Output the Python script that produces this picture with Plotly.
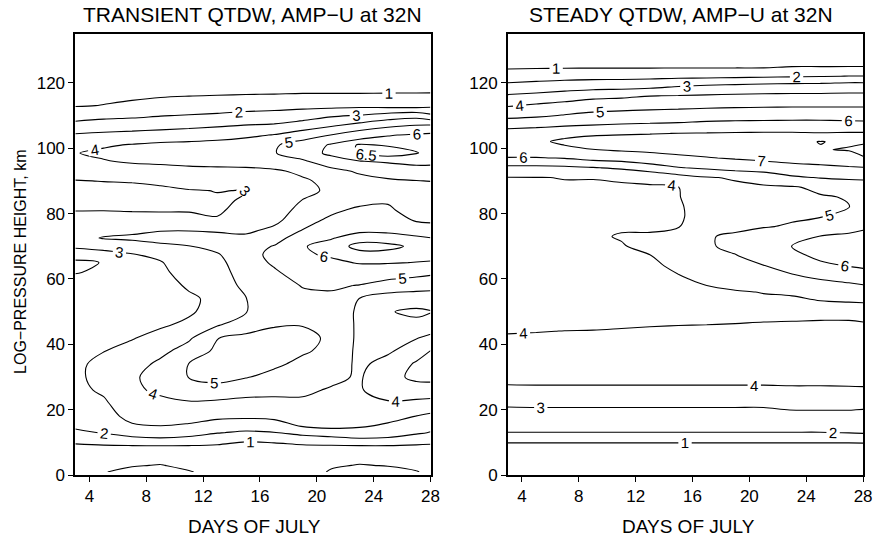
import numpy as np
import plotly.graph_objects as go

FONT = "Liberation Sans, Arial, sans-serif"

# ---------------- data ----------------
days = [3, 5, 7, 9, 11, 13, 15, 17, 19, 21, 23, 25, 27, 28]
x_ticks = [4, 8, 12, 16, 20, 24, 28]
y_ticks = [0, 20, 40, 60, 80, 100, 120]

# Transient QTDW (left) : heights (km) and amplitude profiles per day
heights_transient = [1, 3, 6, 9, 11, 13, 15, 18, 22, 26, 30, 34, 38, 42, 46, 50, 54, 58, 62, 65,
                     67.5, 70, 72.5, 75, 78, 81, 84, 87, 90, 93, 96, 98.5, 101, 104, 107, 110, 113,
                     117, 122, 128, 135]
tr_d03 = [0.85, 0.8, 0.75, 0.88, 1.3, 1.8, 2.15, 2.4, 2.6, 2.75, 2.85, 2.85, 2.8, 2.7, 2.6, 2.5, 2.4,
          2.25, 1.97, 1.85, 2.35, 3.2, 3.75, 3.6, 3.35, 2.97, 2.7, 2.65, 2.97, 3.4, 3.8, 3.97, 3.55,
          3.1, 2.32, 1.55, 0.95, 0.8, 0.65, 0.5, 0.35]
tr_d05 = [0.98, 0.9, 0.8, 0.95, 1.5, 2.05, 2.3, 2.55, 2.85, 3.15, 3.25, 3.2, 2.98, 2.85, 2.75, 2.65,
          2.5, 2.35, 2.1, 2.03, 2.6, 3.4, 4.05, 3.75, 3.45, 2.98, 2.78, 2.75, 3.02, 3.45, 3.95, 4.15,
          3.9, 3.2, 2.5, 1.7, 1.02, 0.8, 0.65, 0.5, 0.35]
tr_d07 = [1.12, 0.97, 0.8, 0.98, 1.75, 2.4, 2.85, 3.35, 3.65, 3.85, 3.85, 3.6, 3.25, 2.95, 2.8, 2.7,
          2.6, 2.55, 2.55, 2.7, 2.95, 3.6, 4.15, 3.8, 3.45, 2.93, 2.78, 2.8, 3.05, 3.6, 4.1, 4.3,
          4.05, 3.3, 2.55, 1.8, 1.1, 0.85, 0.67, 0.5, 0.35]
tr_d09 = [1.15, 1.02, 0.8, 0.99, 1.85, 2.55, 2.98, 3.4, 3.8, 4.15, 4.4, 4.2, 3.75, 3.25, 2.9, 2.8,
          2.75, 2.75, 2.8, 2.93, 3.25, 3.85, 4.25, 3.95, 3.45, 2.9, 2.8, 2.85, 3.15, 3.7, 4.15, 4.4,
          4.2, 3.4, 2.65, 1.95, 1.25, 0.85, 0.67, 0.5, 0.35]
tr_d11 = [1.03, 0.9, 0.78, 0.98, 1.75, 2.35, 2.85, 3.4, 3.9, 4.5, 5.03, 5.02, 4.4, 3.85, 3.15, 2.9,
          2.9, 3.08, 3.4, 3.6, 3.8, 3.97, 4.35, 3.95, 3.3, 2.93, 2.85, 2.95, 3.35, 3.8, 4.2, 4.45,
          4.25, 3.5, 2.75, 2.05, 1.35, 0.87, 0.68, 0.5, 0.35]
tr_d13 = [0.85, 0.82, 0.78, 0.93, 1.35, 2.05, 2.55, 3.2, 3.75, 4.75, 5.2, 5.3, 5.2, 4.98, 3.9, 3.3,
          3.15, 3.3, 3.5, 3.7, 3.92, 4.3, 4.35, 3.85, 3.05, 2.92, 2.92, 3.02, 3.45, 3.85, 4.2, 4.5,
          4.35, 3.6, 2.88, 2.15, 1.45, 0.88, 0.7, 0.5, 0.35]
tr_d15 = [0.75, 0.75, 0.75, 0.85, 1.1, 1.85, 2.45, 3.15, 3.72, 4.35, 5.05, 5.3, 5.35, 5.2, 4.55, 3.95,
          3.97, 4.3, 4.55, 4.65, 4.7, 4.6, 4.2, 3.8, 3.45, 3.2, 3.05, 2.98, 3.5, 3.85, 4.25, 4.6,
          4.5, 3.8, 3.02, 2.3, 1.55, 0.9, 0.7, 0.5, 0.35]
tr_d17 = [0.78, 0.78, 0.78, 0.88, 1.15, 1.95, 2.6, 3.2, 3.7, 4.3, 4.75, 5.15, 5.3, 5.2, 4.95, 4.7,
          4.65, 4.75, 4.9, 5.1, 5.2, 5.05, 4.6, 4.2, 3.75, 3.55, 3.5, 3.55, 3.7, 3.9, 4.45, 4.95,
          4.9, 4.05, 3.1, 2.4, 1.6, 0.92, 0.7, 0.5, 0.35]
tr_d19 = [0.8, 0.8, 0.8, 0.92, 1.45, 2.35, 3.05, 3.5, 3.85, 4.15, 4.5, 4.8, 5.1, 5.2, 4.97, 4.8,
          4.85, 5.03, 5.35, 5.65, 5.9, 5.95, 5.55, 5.02, 4.6, 4.3, 4.02, 3.85, 3.9, 4.15, 4.85, 5.55,
          5.4, 4.55, 3.4, 2.55, 1.7, 0.95, 0.72, 0.5, 0.35]
tr_d21 = [1.04, 0.95, 0.82, 0.95, 1.65, 2.6, 3.2, 3.5, 3.7, 3.92, 4.2, 4.55, 4.8, 4.88, 4.8, 4.7,
          4.85, 5.1, 5.55, 5.85, 6.1, 6.25, 5.95, 5.55, 5.2, 4.8, 4.3, 4.1, 4.2, 4.7, 5.6, 6.2,
          6.1, 5.02, 3.85, 2.85, 1.7, 0.95, 0.73, 0.5, 0.35]
tr_d23 = [1.15, 1.02, 0.85, 0.98, 1.9, 2.55, 3.1, 3.45, 3.7, 3.93, 3.9, 3.8, 3.75, 3.78, 3.8, 3.82,
          3.98, 4.97, 5.6, 6.05, 6.35, 6.65, 6.3, 5.85, 5.55, 5.2, 4.7, 4.45, 4.65, 5.15, 5.98, 6.55,
          6.55, 5.6, 4.3, 3.05, 1.75, 0.95, 0.73, 0.5, 0.35]
tr_d25 = [1.12, 0.98, 0.82, 0.98, 1.85, 2.4, 2.85, 3.3, 3.9, 4.4, 4.7, 4.35, 3.85, 3.55, 3.3, 3.05,
          3.55, 4.6, 5.5, 6.05, 6.35, 6.62, 6.25, 5.85, 5.5, 5.15, 4.9, 4.75, 4.85, 5.5, 6.1, 6.75,
          6.45, 5.95, 4.75, 3.4, 1.65, 0.97, 0.73, 0.5, 0.35]
tr_d27 = [1.02, 0.9, 0.8, 0.93, 1.45, 2.15, 2.5, 2.98, 3.75, 4.6, 5.2, 5.12, 4.55, 3.95, 3.2, 2.85,
          3.45, 4.45, 5.3, 5.98, 6.25, 6.4, 6.15, 5.55, 4.9, 4.6, 4.5, 4.65, 4.98, 5.65, 6.25, 6.52,
          6.4, 6.1, 5.02, 3.6, 1.6, 0.98, 0.74, 0.5, 0.35]
tr_d28 = [0.92, 0.85, 0.8, 0.9, 1.35, 1.95, 2.3, 2.8, 3.65, 4.6, 5.25, 5.35, 5.02, 4.2, 3.45, 2.95,
          3.55, 4.3, 5.2, 5.95, 6.2, 6.3, 6.02, 5.45, 4.82, 4.55, 4.5, 4.65, 5.02, 5.7, 6.2, 6.4,
          6.4, 6.2, 5.05, 3.2, 1.75, 0.98, 0.74, 0.5, 0.35]

# Steady QTDW (right)
heights_steady = [1, 5, 9, 11, 13, 16, 20, 24, 28, 32, 36, 40, 44, 48, 52, 56, 60, 64, 67, 70,
                  73, 76, 79, 82, 85, 88, 91, 94, 97, 99.5, 102, 104.5, 107, 110, 113, 116, 119,
                  122, 125, 129, 135]
st_d03 = [0.55, 0.7, 0.88, 1.15, 1.98, 2.4, 2.88, 3.45, 4.05, 4.25, 4.3, 4.2, 3.95, 3.75, 3.65, 3.6,
          3.55, 3.55, 3.55, 3.6, 3.65, 3.7, 3.75, 3.8, 3.85, 3.9, 3.97, 4.75, 5.95, 6.6, 6.75, 6.4,
          5.7, 4.7, 3.93, 3.1, 2.3, 1.4, 0.85, 0.6, 0.4]
st_d05 = [0.55, 0.7, 0.88, 1.15, 1.98, 2.4, 2.9, 3.47, 4.07, 4.25, 4.3, 4.2, 3.98, 3.78, 3.68, 3.62,
          3.6, 3.6, 3.62, 3.65, 3.7, 3.75, 3.8, 3.85, 3.88, 3.92, 3.98, 4.75, 5.95, 6.7, 6.88, 6.6,
          5.75, 4.85, 4.15, 3.25, 2.4, 1.55, 0.85, 0.6, 0.4]
st_d07 = [0.55, 0.7, 0.88, 1.15, 1.98, 2.4, 2.9, 3.47, 4.07, 4.25, 4.3, 4.22, 4.01, 3.8, 3.7, 3.65,
          3.62, 3.63, 3.66, 3.72, 3.8, 3.83, 3.85, 3.88, 3.9, 3.93, 4.02, 4.8, 6.05, 6.85, 7.12, 6.8,
          5.9, 5.05, 4.35, 3.45, 2.5, 1.65, 0.85, 0.6, 0.4]
st_d09 = [0.55, 0.7, 0.88, 1.15, 1.98, 2.4, 2.9, 3.47, 4.07, 4.25, 4.3, 4.22, 4.02, 3.8, 3.7, 3.68,
          3.68, 3.72, 3.78, 3.85, 3.9, 3.85, 3.83, 3.85, 3.88, 3.92, 4.02, 4.95, 6.35, 6.98, 7.35,
          6.85, 6.02, 5.25, 4.5, 3.75, 2.55, 1.7, 0.85, 0.6, 0.4]
st_d11 = [0.55, 0.7, 0.88, 1.15, 1.98, 2.4, 2.9, 3.47, 4.07, 4.25, 4.3, 4.22, 4.05, 3.82, 3.72, 3.7,
          3.72, 3.78, 3.86, 3.95, 4.05, 3.92, 3.86, 3.86, 3.88, 3.95, 4.05, 5.15, 6.45, 7.1, 7.45,
          6.9, 6.1, 5.35, 4.6, 3.82, 2.6, 1.7, 0.85, 0.6, 0.4]
st_d13 = [0.55, 0.7, 0.88, 1.15, 1.98, 2.4, 2.9, 3.47, 4.07, 4.25, 4.3, 4.22, 4.07, 3.87, 3.77, 3.75,
          3.8, 3.88, 3.97, 4.2, 4.05, 3.93, 3.9, 3.9, 3.92, 3.96, 4.1, 5.6, 6.6, 7.2, 7.55, 6.95,
          6.15, 5.4, 4.7, 3.98, 2.7, 1.72, 0.85, 0.6, 0.4]
st_d15 = [0.55, 0.7, 0.88, 1.15, 1.98, 2.4, 2.9, 3.47, 4.07, 4.25, 4.3, 4.22, 4.08, 3.9, 3.8, 3.82,
          3.93, 4.12, 4.3, 4.45, 4.25, 3.96, 3.9, 3.93, 3.97, 3.98, 4.6, 5.95, 6.8, 7.3, 7.6, 7.02,
          6.2, 5.45, 4.75, 4.03, 2.95, 1.75, 0.85, 0.6, 0.4]
st_d17 = [0.55, 0.7, 0.88, 1.15, 1.98, 2.4, 2.9, 3.47, 4.07, 4.25, 4.3, 4.22, 4.1, 3.9, 3.78, 3.88,
          4.12, 4.45, 4.7, 4.9, 4.95, 4.65, 4.35, 4.28, 4.35, 4.5, 4.93, 6.15, 6.95, 7.4, 7.7, 7.05,
          6.3, 5.55, 4.8, 4.1, 3.1, 1.75, 0.85, 0.6, 0.4]
st_d19 = [0.55, 0.7, 0.88, 1.15, 1.98, 2.4, 2.9, 3.47, 4.07, 4.25, 4.3, 4.22, 4.1, 3.93, 3.82, 3.95,
          4.3, 4.65, 4.95, 5.2, 5.1, 4.85, 4.6, 4.5, 4.55, 4.8, 5.1, 6.4, 7.08, 7.5, 7.75, 7.08,
          6.35, 5.58, 4.85, 4.15, 3.2, 1.8, 0.85, 0.6, 0.4]
st_d21 = [0.55, 0.7, 0.88, 1.15, 1.98, 2.4, 2.9, 3.47, 4.07, 4.25, 4.3, 4.22, 4.12, 3.95, 3.85, 4.02,
          4.5, 4.97, 5.35, 5.7, 5.45, 4.95, 4.7, 4.6, 4.68, 4.9, 5.3, 6.55, 7.2, 7.6, 7.8, 7.1,
          6.38, 5.6, 4.88, 4.18, 3.3, 1.85, 0.85, 0.6, 0.4]
st_d23 = [0.55, 0.7, 0.88, 1.15, 1.98, 2.4, 3.02, 3.5, 4.1, 4.27, 4.3, 4.23, 4.13, 3.96, 3.88, 4.05,
          4.75, 5.4, 5.75, 6.02, 5.8, 5.08, 4.9, 4.78, 4.8, 4.9, 5.85, 6.7, 7.35, 7.8, 7.85, 7.1,
          6.4, 5.62, 4.9, 4.2, 3.35, 1.9, 0.98, 0.6, 0.4]
st_d25 = [0.55, 0.7, 0.88, 1.15, 1.98, 2.4, 3.02, 3.5, 4.1, 4.27, 4.3, 4.25, 4.15, 3.97, 3.9, 4.2,
          5.03, 5.8, 6.2, 6.3, 6.02, 5.5, 4.97, 4.9, 4.92, 5.2, 6.05, 6.8, 7.45, 7.96, 8.02, 7.05,
          6.4, 5.62, 4.9, 4.2, 3.38, 1.95, 0.98, 0.6, 0.4]
st_d27 = [0.55, 0.7, 0.88, 1.15, 2.02, 2.4, 3.02, 3.52, 4.12, 4.28, 4.3, 4.25, 4.15, 3.97, 3.88, 4.4,
          5.25, 6.03, 6.3, 6.35, 6.15, 5.7, 5.3, 4.98, 5.05, 5.6, 6.1, 6.9, 7.65, 8.05, 7.9, 7.1,
          6.35, 5.6, 4.9, 4.2, 3.5, 2.02, 0.98, 0.6, 0.4]
st_d28 = [0.55, 0.7, 0.88, 1.18, 2.1, 2.45, 2.98, 3.6, 4.12, 4.28, 4.3, 4.25, 4.12, 3.95, 3.88, 4.55,
          5.35, 6.15, 6.4, 6.45, 6.25, 5.85, 5.5, 5.35, 5.4, 5.7, 6.1, 6.95, 7.95, 8.2, 7.9, 7.1,
          6.3, 5.6, 4.9, 4.2, 3.5, 2.02, 0.98, 0.6, 0.4]

transient_columns = [tr_d03, tr_d05, tr_d07, tr_d09, tr_d11, tr_d13, tr_d15, tr_d17, tr_d19,
                     tr_d21, tr_d23, tr_d25, tr_d27, tr_d28]
steady_columns = [st_d03, st_d05, st_d07, st_d09, st_d11, st_d13, st_d15, st_d17, st_d19,
                  st_d21, st_d23, st_d25, st_d27, st_d28]

z_transient = np.column_stack(transient_columns)
z_steady = np.column_stack(steady_columns)

# ---------------- figure ----------------
W, H = 880, 550
LINE = dict(color="black", width=1.1, smoothing=1.0)
LABELFONT = dict(family=FONT, size=15, color="black")


def contour(z, y, start, end, size, xa, ya):
    return go.Contour(
        x=days, y=y, z=z, xaxis=xa, yaxis=ya,
        autocontour=False,
        contours=dict(start=start, end=end, size=size, coloring="none",
                      showlabels=True, labelfont=LABELFONT, labelformat=".1~f"),
        line=LINE, showscale=False, hoverinfo="skip",
    )


fig = go.Figure()
fig.add_trace(contour(z_transient, heights_transient, 1, 6, 1, "x", "y"))
fig.add_trace(contour(z_transient, heights_transient, 6.5, 6.5, 0.5, "x", "y"))
fig.add_trace(contour(z_steady, heights_steady, 1, 8, 1, "x2", "y2"))

ydom = [66 / H, 515.7 / H]
axis_common = dict(showline=True, linecolor="black", linewidth=1.5, mirror=True,
                   ticks="outside", ticklen=5, tickwidth=1.2, tickcolor="black",
                   showgrid=False, zeroline=False,
                   tickfont=dict(family=FONT, size=17, color="black"))

fig.update_layout(
    width=W, height=H,
    margin=dict(l=0, r=0, t=0, b=0),
    paper_bgcolor="white", plot_bgcolor="white",
    showlegend=False,
    xaxis=dict(domain=[76 / W, 435 / W], range=[3, 28], tickvals=x_ticks, anchor="y", **axis_common),
    yaxis=dict(domain=ydom, range=[0, 135], tickvals=y_ticks, anchor="x", **axis_common),
    xaxis2=dict(domain=[513 / W, 872 / W], range=[3, 28], tickvals=x_ticks, anchor="y2", **axis_common),
    yaxis2=dict(domain=ydom, range=[0, 135], tickvals=y_ticks, anchor="x2", **axis_common),
)


def ann(text, px, py, size, angle=0):
    fig.add_annotation(text=text, x=px / W, y=1 - py / H, xref="paper", yref="paper",
                       xanchor="center", yanchor="middle", showarrow=False, textangle=angle,
                       font=dict(family=FONT, size=size, color="black"))


ann("TRANSIENT QTDW, AMP\u2212U at 32N", 255, 15, 21)
ann("STEADY QTDW, AMP\u2212U at 32N", 688, 15, 21)
ann("DAYS OF JULY", 257, 536, 19)
ann("DAYS OF JULY", 696, 536, 19)
ann("LOG\u2212PRESSURE HEIGHT, km", 20, 266, 16, angle=-90)

fig.write_html("out.html")
